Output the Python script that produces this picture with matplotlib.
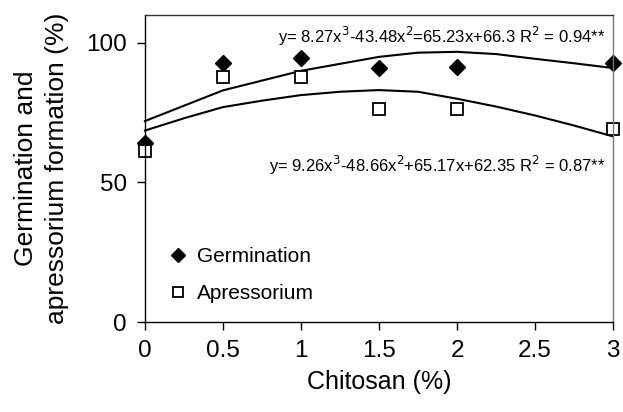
import matplotlib.pyplot as plt

plt.rcParams['font.family'] = ['Liberation Sans', 'DejaVu Sans']

# measured points
chitosan = [0, 0.5, 1, 1.5, 2, 3]
germination = [64.3, 92.9, 94.6, 91.0, 91.4, 92.9]
apressorium = [61.4, 87.9, 87.9, 76.4, 76.4, 69.0]

# trend lines
trend_x = [0, 0.25, 0.5, 0.75, 1, 1.25, 1.5, 1.75, 2, 2.25, 2.5, 2.75, 3]
trend_germ = [72.0, 77.5, 83.0, 86.5, 90.0, 92.5, 95.0, 96.5, 96.8, 96.0, 94.3, 92.7, 91.0]
trend_apre = [68.6, 73.0, 77.0, 79.3, 81.3, 82.5, 83.1, 82.5, 80.0, 77.2, 74.0, 70.4, 66.5]

eq_germ = "y= 8.27x$^3$-43.48x$^2$=65.23x+66.3 R$^2$ = 0.94**"
eq_apre = "y= 9.26x$^3$-48.66x$^2$+65.17x+62.35 R$^2$ = 0.87**"

fig = plt.figure(figsize=(6.23, 4.12), dpi=100)
ax = fig.add_axes([0.2327, 0.2184, 0.7513, 0.7452])

ax.plot(trend_x, trend_germ, color='black', lw=1.5, clip_on=False)
ax.plot(trend_x, trend_apre, color='black', lw=1.5, clip_on=False)
ax.plot(chitosan, germination, 'D', color='black', ms=8.5, clip_on=False, label='Germination')
ax.plot(chitosan, apressorium, 's', mfc='white', mec='black', mew=1.3, ms=8, clip_on=False,
        label='Apressorium')

ax.text(0.983, 0.93, eq_germ, transform=ax.transAxes, ha='right', va='center', fontsize=12)
ax.text(0.983, 0.511, eq_apre, transform=ax.transAxes, ha='right', va='center', fontsize=12)

ax.set_xlim(0, 3)
ax.set_ylim(0, 110)
ax.set_xticks([0, 0.5, 1, 1.5, 2, 2.5, 3])
ax.set_xticklabels(['0', '0.5', '1', '1.5', '2', '2.5', '3'])
ax.set_yticks([0, 50, 100])
ax.tick_params(direction='out', length=6, width=1, labelsize=17.5, pad=7)
for s in ax.spines.values():
    s.set_linewidth(1)
ax.spines['right'].set_color('#777777')
ax.spines['top'].set_color('#333333')

ax.set_xlabel('Chitosan (%)', fontsize=18, labelpad=6)
ax.set_ylabel('Germination and\napressorium formation (%)', fontsize=19, labelpad=12,
              linespacing=1.4)

leg = ax.legend(loc='lower left', bbox_to_anchor=(0.0, 0.0), frameon=False, fontsize=15,
                handletextpad=0.2, labelspacing=0.88, handlelength=1.4)
for h in leg.legend_handles:
    h.set_markersize(7.5)

fig.savefig('out.png', dpi=100)
